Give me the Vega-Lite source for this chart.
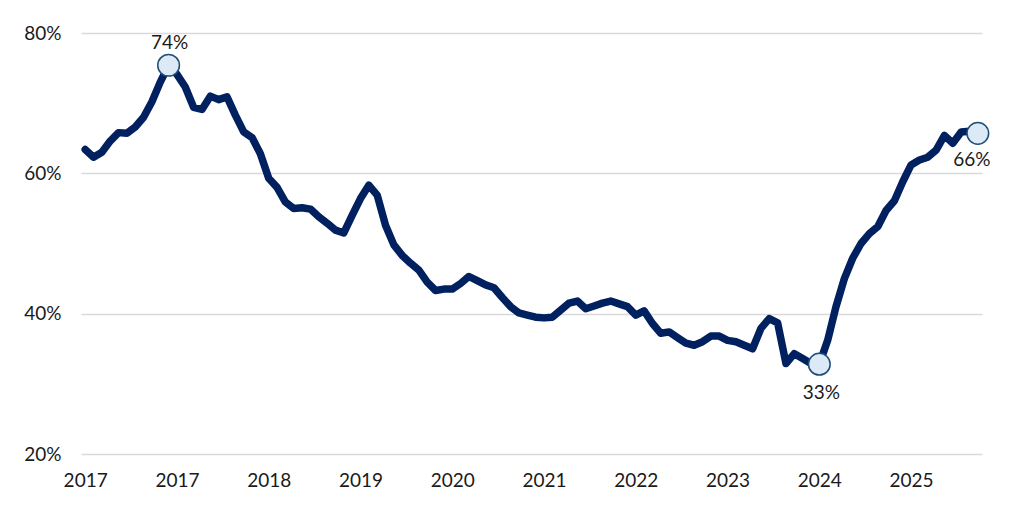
{
  "$schema": "https://vega.github.io/schema/vega-lite/v6.json",
  "autosize": "none",
  "width": 901,
  "height": 421,
  "padding": {"left": 81, "top": 33, "right": 42, "bottom": 61},
  "background": "white",
  "config": {
    "view": {"stroke": null},
    "font": "Lato",
    "axis": {"labelFont": "Lato", "labelFontSize": 19, "labelColor": "#1a1a1a", "domain": false, "ticks": false, "title": null}
  },
  "data": {
    "values": [
      {"m": "2017-01", "v": 0.634}, {"m": "2017-02", "v": 0.623}, {"m": "2017-03", "v": 0.630}, {"m": "2017-04", "v": 0.646},
      {"m": "2017-05", "v": 0.658}, {"m": "2017-06", "v": 0.657}, {"m": "2017-07", "v": 0.666}, {"m": "2017-08", "v": 0.680},
      {"m": "2017-09", "v": 0.702}, {"m": "2017-10", "v": 0.730}, {"m": "2017-11", "v": 0.754, "label": "74%"}, {"m": "2017-12", "v": 0.741},
      {"m": "2018-01", "v": 0.723}, {"m": "2018-02", "v": 0.694}, {"m": "2018-03", "v": 0.691}, {"m": "2018-04", "v": 0.710},
      {"m": "2018-05", "v": 0.705}, {"m": "2018-06", "v": 0.709}, {"m": "2018-07", "v": 0.683}, {"m": "2018-08", "v": 0.659},
      {"m": "2018-09", "v": 0.651}, {"m": "2018-10", "v": 0.628}, {"m": "2018-11", "v": 0.593}, {"m": "2018-12", "v": 0.580},
      {"m": "2019-01", "v": 0.559}, {"m": "2019-02", "v": 0.550}, {"m": "2019-03", "v": 0.551}, {"m": "2019-04", "v": 0.549},
      {"m": "2019-05", "v": 0.538}, {"m": "2019-06", "v": 0.529}, {"m": "2019-07", "v": 0.519}, {"m": "2019-08", "v": 0.515},
      {"m": "2019-09", "v": 0.540}, {"m": "2019-10", "v": 0.564}, {"m": "2019-11", "v": 0.583}, {"m": "2019-12", "v": 0.569},
      {"m": "2020-01", "v": 0.526}, {"m": "2020-02", "v": 0.498}, {"m": "2020-03", "v": 0.483}, {"m": "2020-04", "v": 0.472},
      {"m": "2020-05", "v": 0.462}, {"m": "2020-06", "v": 0.445}, {"m": "2020-07", "v": 0.433}, {"m": "2020-08", "v": 0.435},
      {"m": "2020-09", "v": 0.435}, {"m": "2020-10", "v": 0.443}, {"m": "2020-11", "v": 0.453}, {"m": "2020-12", "v": 0.447},
      {"m": "2021-01", "v": 0.441}, {"m": "2021-02", "v": 0.437}, {"m": "2021-03", "v": 0.423}, {"m": "2021-04", "v": 0.410},
      {"m": "2021-05", "v": 0.401}, {"m": "2021-06", "v": 0.398}, {"m": "2021-07", "v": 0.395}, {"m": "2021-08", "v": 0.394},
      {"m": "2021-09", "v": 0.395}, {"m": "2021-10", "v": 0.405}, {"m": "2021-11", "v": 0.415}, {"m": "2021-12", "v": 0.418},
      {"m": "2022-01", "v": 0.407}, {"m": "2022-02", "v": 0.411}, {"m": "2022-03", "v": 0.415}, {"m": "2022-04", "v": 0.418},
      {"m": "2022-05", "v": 0.414}, {"m": "2022-06", "v": 0.410}, {"m": "2022-07", "v": 0.398}, {"m": "2022-08", "v": 0.404},
      {"m": "2022-09", "v": 0.386}, {"m": "2022-10", "v": 0.372}, {"m": "2022-11", "v": 0.374}, {"m": "2022-12", "v": 0.366},
      {"m": "2023-01", "v": 0.358}, {"m": "2023-02", "v": 0.355}, {"m": "2023-03", "v": 0.360}, {"m": "2023-04", "v": 0.368},
      {"m": "2023-05", "v": 0.368}, {"m": "2023-06", "v": 0.362}, {"m": "2023-07", "v": 0.360}, {"m": "2023-08", "v": 0.355},
      {"m": "2023-09", "v": 0.350}, {"m": "2023-10", "v": 0.379}, {"m": "2023-11", "v": 0.393}, {"m": "2023-12", "v": 0.387},
      {"m": "2024-01", "v": 0.329}, {"m": "2024-02", "v": 0.343}, {"m": "2024-03", "v": 0.336}, {"m": "2024-04", "v": 0.329},
      {"m": "2024-05", "v": 0.328, "label": "33%"}, {"m": "2024-06", "v": 0.362}, {"m": "2024-07", "v": 0.410}, {"m": "2024-08", "v": 0.450},
      {"m": "2024-09", "v": 0.479}, {"m": "2024-10", "v": 0.500}, {"m": "2024-11", "v": 0.514}, {"m": "2024-12", "v": 0.524},
      {"m": "2025-01", "v": 0.547}, {"m": "2025-02", "v": 0.561}, {"m": "2025-03", "v": 0.588}, {"m": "2025-04", "v": 0.612},
      {"m": "2025-05", "v": 0.619}, {"m": "2025-06", "v": 0.623}, {"m": "2025-07", "v": 0.633}, {"m": "2025-08", "v": 0.654},
      {"m": "2025-09", "v": 0.643}, {"m": "2025-10", "v": 0.659}, {"m": "2025-11", "v": 0.660}, {"m": "2025-12", "v": 0.657, "label": "66%"}
    ]
  },
  "encoding": {
    "x": {
      "field": "m", "type": "ordinal", "sort": null,
      "scale": {"type": "point", "padding": 0.5},
      "axis": {
        "values": ["2017-01", "2017-12", "2018-11", "2019-10", "2020-09", "2021-08", "2022-07", "2023-06", "2024-05", "2025-04"],
        "labelExpr": "substring(datum.value, 0, 4)",
        "labelAngle": 0, "labelPadding": 17, "grid": false
      }
    },
    "y": {
      "field": "v", "type": "quantitative",
      "scale": {"domain": [0.2, 0.8], "nice": false, "zero": false},
      "axis": {"values": [0.2, 0.4, 0.6, 0.8], "format": ".0%", "labelPadding": 20, "grid": true, "gridColor": "#D9D9D9", "gridWidth": 1.3}
    }
  },
  "layer": [
    {"mark": {"type": "line", "color": "#002060", "strokeWidth": 7.5, "strokeJoin": "round", "strokeCap": "round"}},
    {
      "transform": [{"filter": "isValid(datum.label)"}],
      "mark": {"type": "point", "filled": true, "size": 470, "fill": "#DCE9F6", "stroke": "#1F4E79", "strokeWidth": 1.5, "opacity": 1}
    },
    {
      "transform": [{"filter": "datum.label == '74%'"}],
      "mark": {"type": "text", "fontSize": 19, "color": "#1a1a1a", "baseline": "middle", "dy": -22, "dx": 1},
      "encoding": {"text": {"field": "label"}}
    },
    {
      "transform": [{"filter": "datum.label == '33%'"}],
      "mark": {"type": "text", "fontSize": 19, "color": "#1a1a1a", "baseline": "middle", "dy": 29, "dx": 2},
      "encoding": {"text": {"field": "label"}}
    },
    {
      "transform": [{"filter": "datum.label == '66%'"}],
      "mark": {"type": "text", "fontSize": 19, "color": "#1a1a1a", "baseline": "middle", "dy": 27, "dx": -6},
      "encoding": {"text": {"field": "label"}}
    }
  ]
}
